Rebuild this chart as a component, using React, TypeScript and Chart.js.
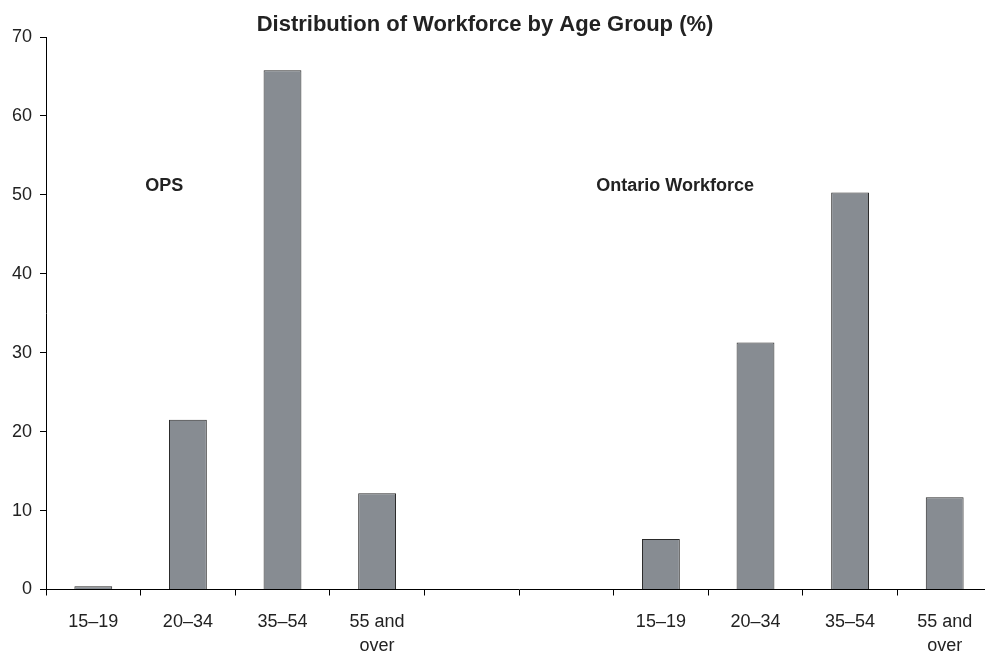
import React, { useEffect, useRef } from "react";
import { Chart, registerables } from "chart.js";

Chart.register(...registerables);

const categories: (string | string[])[] = [
  "15–19",
  "20–34",
  "35–54",
  ["55 and", "over"],
  "",
  "",
  "15–19",
  "20–34",
  "35–54",
  ["55 and", "over"],
];

const shares: (number | null)[] = [0.4, 21.5, 65.8, 12.2, null, null, 6.4, 31.3, 50.3, 11.7];

const yTicks = [0, 10, 20, 30, 40, 50, 60, 70];

const titleText = "Distribution of Workforce by Age Group (%)";

const groupLabels = ["OPS", "Ontario Workforce"];
const groupLabelX = [0.75, 6.15];
const groupLabelY = [51.1, 51.1];

const FONT = "'Liberation Sans', Arial, sans-serif";

export default function App() {
  const ref = useRef<HTMLCanvasElement | null>(null);

  useEffect(() => {
    if (!ref.current) return;

    const overlay = {
      id: "overlay",
      afterDraw(chart: any) {
        const ctx = chart.ctx;
        const xs = chart.scales.x;
        const ys = chart.scales.y;
        ctx.save();
        ctx.fillStyle = "#222";
        ctx.textAlign = "center";
        ctx.textBaseline = "middle";
        ctx.font = `bold 22px ${FONT}`;
        ctx.fillText(titleText, 485, 25);
        ctx.font = `bold 18px ${FONT}`;
        groupLabels.forEach((t, i) => {
          ctx.fillText(t, xs.getPixelForValue(groupLabelX[i]), ys.getPixelForValue(groupLabelY[i]));
        });
        ctx.restore();
      },
    };

    const chart = new Chart(ref.current, {
      type: "bar",
      data: {
        labels: categories as any,
        datasets: [
          {
            data: shares as any,
            backgroundColor: "#878c92",
            borderColor: "#2a2a2a",
            borderWidth: 1,
            barPercentage: 0.4,
            categoryPercentage: 1,
          },
        ],
      },
      options: {
        responsive: false,
        animation: false,
        layout: { padding: { left: 0, right: 8, top: 37, bottom: 0 } },
        plugins: {
          legend: { display: false },
          title: { display: false },
          tooltip: { enabled: false },
        },
        scales: {
          x: {
            offset: true,
            grid: {
              display: true,
              offset: true,
              drawOnChartArea: false,
              drawTicks: true,
              tickLength: 6,
              color: "#000",
            },
            border: { display: true, color: "#000", width: 1 },
            ticks: {
              color: "#222",
              font: { family: FONT, size: 18, lineHeight: 1.35 },
              padding: 14,
              maxRotation: 0,
              autoSkip: false,
            },
            afterFit(scale: any) {
              scale.height = 62.5;
            },
          },
          y: {
            min: 0,
            max: 70,
            afterBuildTicks(scale: any) {
              scale.ticks = yTicks.map((v) => ({ value: v }));
            },
            grid: {
              display: true,
              drawOnChartArea: false,
              drawTicks: true,
              tickLength: 6,
              color: "#000",
            },
            border: { display: true, color: "#000", width: 1 },
            ticks: {
              color: "#222",
              font: { family: FONT, size: 18 },
              padding: 8,
            },
            afterFit(scale: any) {
              scale.width = 46;
            },
          },
        },
      },
      plugins: [overlay],
    });

    return () => chart.destroy();
  }, []);

  return (
    <div
      style={{
        position: "fixed",
        left: 0,
        top: 0,
        width: 985,
        height: 652,
        overflow: "hidden",
        background: "#fff",
      }}
    >
      <canvas ref={ref} width={1000} height={652} style={{ display: "block" }} />
    </div>
  );
}
